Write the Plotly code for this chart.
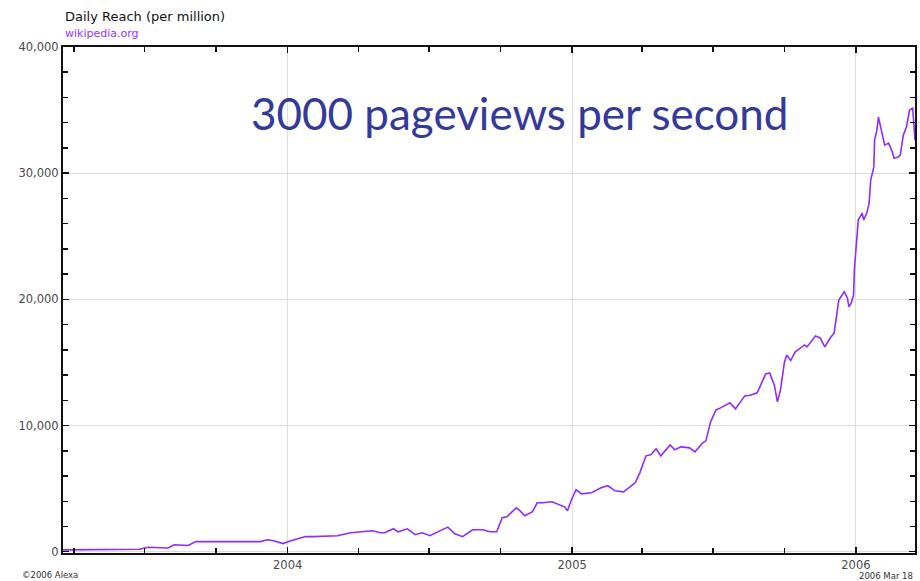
import plotly.graph_objects as go

dates = [
    "2003-03-18", "2003-05-07", "2003-06-24", "2003-07-06", "2003-07-31", "2003-08-08",
    "2003-08-26", "2003-09-05", "2003-10-20", "2003-11-27", "2003-12-06", "2003-12-14",
    "2003-12-26", "2004-01-05", "2004-01-24", "2004-02-03", "2004-03-05", "2004-03-22",
    "2004-04-19", "2004-04-29", "2004-05-05", "2004-05-16", "2004-05-22", "2004-06-03",
    "2004-06-13", "2004-06-22", "2004-07-02", "2004-07-19", "2004-07-25", "2004-08-03",
    "2004-08-13", "2004-08-26", "2004-09-08", "2004-09-17", "2004-09-26", "2004-10-03",
    "2004-10-09", "2004-10-21", "2004-10-25", "2004-11-01", "2004-11-11", "2004-11-17",
    "2004-11-24", "2004-12-06", "2004-12-15", "2004-12-22", "2004-12-26", "2004-12-31",
    "2005-01-06", "2005-01-13", "2005-01-26", "2005-02-07", "2005-02-16", "2005-02-25",
    "2005-03-08", "2005-03-23", "2005-03-29", "2005-04-06", "2005-04-12", "2005-04-19",
    "2005-04-25", "2005-05-07", "2005-05-13", "2005-05-21", "2005-06-01", "2005-06-08",
    "2005-06-18", "2005-06-22", "2005-06-28", "2005-07-05", "2005-07-11", "2005-07-23",
    "2005-07-30", "2005-08-11", "2005-08-18", "2005-08-27", "2005-09-07", "2005-09-12",
    "2005-09-18", "2005-09-22", "2005-09-26", "2005-10-01", "2005-10-04", "2005-10-09",
    "2005-10-15", "2005-10-27", "2005-10-30", "2005-11-10", "2005-11-16", "2005-11-22",
    "2005-11-29", "2005-12-04", "2005-12-10", "2005-12-17", "2005-12-21", "2005-12-23",
    "2005-12-26", "2005-12-29", "2005-12-30", "2006-01-02", "2006-01-04", "2006-01-09",
    "2006-01-11", "2006-01-15", "2006-01-18", "2006-01-20", "2006-01-24", "2006-01-25",
    "2006-01-28", "2006-01-30", "2006-02-02", "2006-02-05", "2006-02-07", "2006-02-12",
    "2006-02-16", "2006-02-19", "2006-02-24", "2006-02-27", "2006-03-03", "2006-03-07",
    "2006-03-11", "2006-03-15", "2006-03-18",
]
reach = [
    150, 150, 200, 350, 300, 550,
    500, 800, 800, 800, 950, 870,
    650, 870, 1200, 1200, 1270, 1500,
    1660, 1500, 1500, 1820, 1580, 1820,
    1350, 1500, 1270, 1820, 1950, 1420,
    1190, 1740, 1740, 1580, 1580, 2690,
    2770, 3480, 3300, 2850, 3170, 3880,
    3880, 3960, 3720, 3560, 3250, 4120,
    4910, 4590, 4670, 5070, 5230, 4830,
    4750, 5460, 6250, 7600, 7680, 8160,
    7600, 8470, 8080, 8310, 8230, 7920,
    8630, 8790, 10290, 11240, 11400, 11800,
    11320, 12350, 12400, 12590, 14090, 14170,
    13220, 11880, 12830, 15000, 15600, 15150,
    15840, 16390, 16230, 17100, 16940, 16230,
    16940, 17340, 19950, 20590, 20110, 19400,
    19710, 20350, 22330, 24470, 26290, 26840,
    26290, 26840, 27630, 29450, 30480, 32620,
    33410, 34440, 33650, 32860, 32220, 32380,
    31830, 31200, 31270, 31430, 33020, 33650,
    35000, 35150, 32600,
]

x_range = ["2003-03-18", "2006-03-18"]
y_range = [-100, 40000]

title_text = "Daily Reach (per million)"
site_text = "wikipedia.org"
headline = "3000 pageviews per second"
credit_text = "©2006 Alexa"
date_text = "2006 Mar 18"

fig = go.Figure()
fig.add_trace(go.Scatter(
    x=dates, y=reach, mode="lines",
    line=dict(color="#8f2bff", width=1.6),
    hoverinfo="skip", showlegend=False,
))

tick_font = dict(family="DejaVu Sans, Verdana, sans-serif", size=11.5, color="#4a4a4a")

fig.update_layout(
    width=920, height=581,
    margin=dict(l=63, r=3, t=47, b=28),
    paper_bgcolor="white", plot_bgcolor="white",
    showlegend=False,
    xaxis=dict(
        type="date", range=x_range,
        dtick="M12", tick0="2004-01-01", tickformat="%Y",
        ticks="inside", ticklen=6, tickwidth=1.5, tickcolor="#111111",
        showgrid=True, gridcolor="#dcdcdc", gridwidth=1,
        showline=True, linecolor="#111111", linewidth=2, mirror="ticks",
        tickfont=tick_font, zeroline=False,
        minor=dict(dtick="M3", tick0="2003-01-01", ticks="inside", ticklen=5,
                   tickwidth=1.5, tickcolor="#111111", showgrid=False),
    ),
    yaxis=dict(
        range=y_range, dtick=10000, tick0=0, tickformat=",d",
        ticks="inside", ticklen=6, tickwidth=1.5, tickcolor="#111111",
        showgrid=True, gridcolor="#dcdcdc", gridwidth=1,
        showline=True, linecolor="#111111", linewidth=2, mirror="ticks",
        tickfont=tick_font, zeroline=False,
        minor=dict(dtick=2000, tick0=0, ticks="inside", ticklen=5,
                   tickwidth=1.5, tickcolor="#111111", showgrid=False),
    ),
    annotations=[
        dict(text=title_text, xref="paper", yref="paper", x=0.0, y=(553 - 17) / 506,
             xanchor="left", yanchor="middle", showarrow=False,
             font=dict(family="DejaVu Sans, Verdana, sans-serif", size=13, color="#111111")),
        dict(text=site_text, xref="paper", yref="paper", x=0.0, y=(553 - 34) / 506,
             xanchor="left", yanchor="middle", showarrow=False,
             font=dict(family="DejaVu Sans, Verdana, sans-serif", size=11, color="#9933ff")),
        dict(text=headline, xref="paper", yref="paper", x=(521 - 63) / 854, y=(553 - 113) / 506,
             xanchor="center", yanchor="middle", showarrow=False,
             font=dict(family="Lato, sans-serif", size=44, color="#34399a")),
        dict(text=credit_text, xref="paper", yref="paper", x=(20 - 63) / 854, y=(553 - 575) / 506,
             xanchor="left", yanchor="middle", showarrow=False,
             font=dict(family="DejaVu Sans, Verdana, sans-serif", size=8.5, color="#333333")),
        dict(text=date_text, xref="paper", yref="paper", x=1.0, y=(553 - 576) / 506,
             xanchor="right", yanchor="middle", showarrow=False,
             font=dict(family="DejaVu Sans, Verdana, sans-serif", size=8.5, color="#333333")),
    ],
)

fig.write_html(
    "out.html",
    config={"displayModeBar": False, "staticPlot": True},
    post_script="document.body.style.margin='0';document.body.style.overflow='hidden';",
)
